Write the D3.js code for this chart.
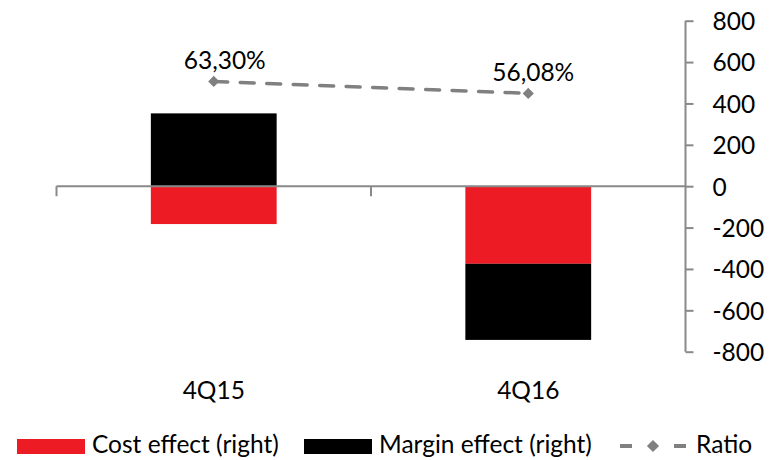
<!DOCTYPE html>
<html>
<head>
<meta charset="utf-8">
<script src="https://cdn.jsdelivr.net/npm/d3@7"></script>
<style>
  html, body { margin: 0; padding: 0; background: #fff; }
  svg { display: block; font-family: Lato, "Open Sans", sans-serif; }
</style>
</head>
<body>
<svg id="chart" width="784" height="460"></svg>
<script>
const categories = ["4Q15", "4Q16"];
const costEffect = [-183, -375];
const marginEffect = [352, -368];
const ratio = [63.30, 56.08];
const ratioLabels = ["63,30%", "56,08%"];
const yTicks = [-800, -600, -400, -200, 0, 200, 400, 600, 800];

const seriesKeys = ["cost", "margin"];
const seriesNames = {cost: "Cost effect (right)", margin: "Margin effect (right)"};
const colors = {cost: "#ED1C24", margin: "#000000"};
const axisColor = "#898989";
const lineColor = "#808080";

const svg = d3.select("#chart");
const fontSize = 24.5;

const table = categories.map((c, i) => ({cat: c, cost: costEffect[i], margin: marginEffect[i], ratio: ratio[i]}));

const x = d3.scaleBand().domain(categories).range([56.5, 685.5]).padding(0);
const y = d3.scaleLinear().domain([-800, 800]).range([351.7, 20.7]);
const yRatio = d3.scaleLinear().domain([-100, 100]).range([351.7, 20.7]);

const barW = x.bandwidth() * 0.4;

// stacked bars
const stack = d3.stack().keys(seriesKeys).offset(d3.stackOffsetDiverging);
const stacked = stack(table);
svg.append("g").selectAll("g").data(stacked).join("g")
  .attr("fill", d => colors[d.key])
  .selectAll("rect").data(d => d).join("rect")
  .attr("x", d => x(d.data.cat) + (x.bandwidth() - barW) / 2)
  .attr("width", barW)
  .attr("y", d => y(Math.max(d[0], d[1])))
  .attr("height", d => Math.abs(y(d[0]) - y(d[1])));

// zero (category) axis
const zeroG = svg.append("g");
zeroG.append("line")
  .attr("x1", x.range()[0]).attr("x2", x.range()[1])
  .attr("y1", y(0)).attr("y2", y(0))
  .attr("stroke", axisColor).attr("stroke-width", 2);
const boundaries = categories.map(c => x(c));
zeroG.selectAll("line.tick").data(boundaries).join("line")
  .attr("class", "tick")
  .attr("x1", d => d).attr("x2", d => d)
  .attr("y1", y(0)).attr("y2", y(0) + 10)
  .attr("stroke", axisColor).attr("stroke-width", 2);

// category labels
svg.append("g").selectAll("text").data(categories).join("text")
  .attr("x", d => x(d) + x.bandwidth() / 2)
  .attr("y", 399)
  .attr("text-anchor", "middle")
  .attr("font-size", fontSize)
  .attr("fill", "#000")
  .text(d => d);

// right axis
const yAxis = d3.axisRight(y).tickValues(yTicks).tickSize(8).tickPadding(19).tickFormat(d => String(d));
const yAxisG = svg.append("g").attr("transform", `translate(${x.range()[1]},0)`).call(yAxis);
yAxisG.select(".domain").attr("stroke", axisColor).attr("stroke-width", 2).attr("d", `M0,${y(800)}V${y(-800)}`);
yAxisG.selectAll(".tick line").attr("stroke", axisColor).attr("stroke-width", 2);
yAxisG.selectAll(".tick text").attr("font-size", fontSize).attr("font-family", "Lato, 'Open Sans', sans-serif").attr("fill", "#000").attr("dy", "0.36em");

// ratio line
const cx = d => x(d.cat) + x.bandwidth() / 2;
const line = d3.line().x(cx).y(d => yRatio(d.ratio));
svg.append("path").datum(table)
  .attr("d", line)
  .attr("fill", "none")
  .attr("stroke", lineColor)
  .attr("stroke-width", 3.5)
  .attr("stroke-dasharray", "14,12.5")
  .attr("stroke-linecap", "round");
const diamond = d3.symbol().type(d3.symbolDiamond2).size(80);
svg.append("g").selectAll("path").data(table).join("path")
  .attr("d", diamond)
  .attr("transform", d => `translate(${cx(d)},${yRatio(d.ratio)})`)
  .attr("fill", lineColor);
svg.append("g").selectAll("text").data(table).join("text")
  .attr("x", (d, i) => cx(d) + (i === 0 ? 11 : 5))
  .attr("y", d => yRatio(d.ratio) - 12.5)
  .attr("text-anchor", "middle")
  .attr("font-size", fontSize)
  .attr("fill", "#000")
  .text((d, i) => ratioLabels[i]);

// legend
const legend = svg.append("g");
const legendItems = [
  {key: "cost", x: 17},
  {key: "margin", x: 304}
];
legendItems.forEach(it => {
  legend.append("rect").attr("x", it.x).attr("y", 439).attr("width", 68).attr("height", 15).attr("fill", colors[it.key]);
  legend.append("text").attr("x", it.x + 75).attr("y", 453).attr("font-size", fontSize).attr("fill", "#000").text(seriesNames[it.key]);
});
legend.append("line").attr("x1", 620).attr("x2", 686).attr("y1", 446).attr("y2", 446)
  .attr("stroke", lineColor).attr("stroke-width", 4).attr("stroke-dasharray", "12,42,12");
legend.append("path").attr("d", d3.symbol().type(d3.symbolDiamond2).size(95)).attr("transform", "translate(653,446)").attr("fill", lineColor);
legend.append("text").attr("x", 696).attr("y", 453).attr("font-size", fontSize).attr("fill", "#000").text("Ratio");
</script>
</body>
</html>
